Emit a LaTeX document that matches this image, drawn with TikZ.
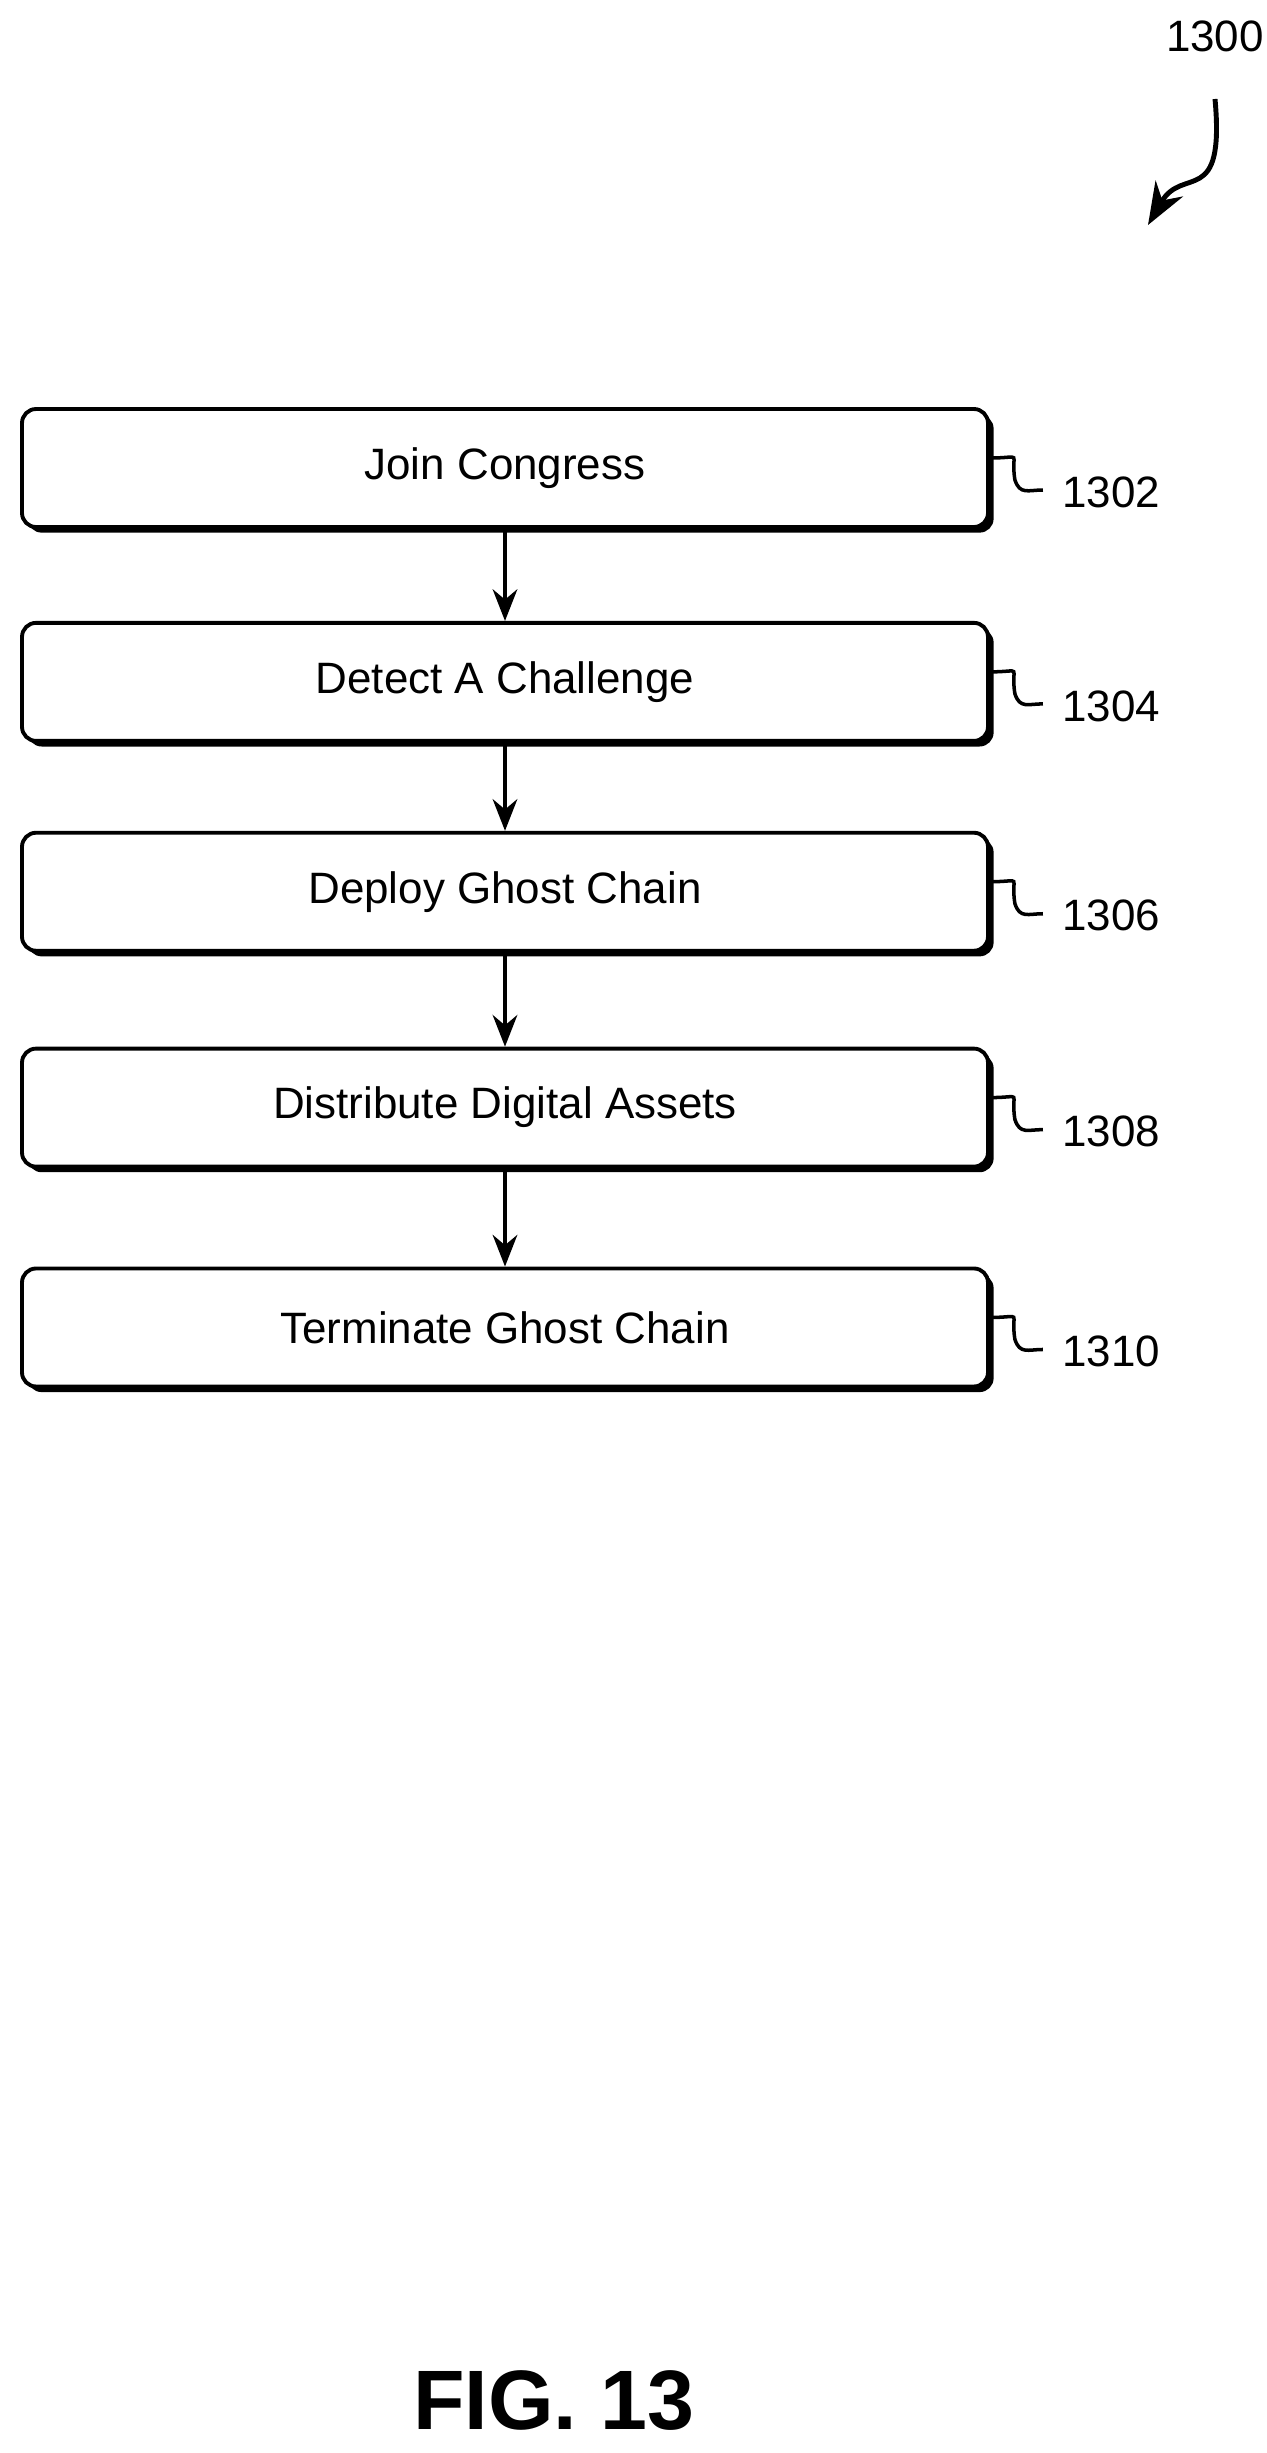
\documentclass[tikz,border=0pt]{standalone}
\usepackage{fontspec}
\setmainfont{Liberation Sans}
\usetikzlibrary{positioning,arrows.meta}

\tikzset{
  stage/.style = {draw, line width=1.1pt, rounded corners=4pt, fill=white,
    minimum width=9.66cm, minimum height=1.18cm, font=\fontsize{12.5}{15}\selectfont},
  shadowed/.style = {preaction={fill=black, transform canvas={xshift=1.6pt, yshift=-1.6pt}}},
  flow/.style = {-{Stealth[length=9pt,width=7pt]}, line width=1.1pt},
  tag/.style = {font=\fontsize{12.5}{15}\selectfont, anchor=west},
  squig/.style = {line width=1pt}
}

\begin{document}
\begin{tikzpicture}
  \useasboundingbox (0,0) rectangle (12.67,-24.53);

  % stages
  \node[stage, shadowed] (join) at (5.05,-4.68) {Join Congress};
  \node[stage, shadowed, below=0.92cm of join] (detect) {Detect A Challenge};
  \node[stage, shadowed, below=0.88cm of detect] (deploy) {Deploy Ghost Chain};
  \node[stage, shadowed, below=0.94cm of deploy] (distribute) {Distribute Digital Assets};
  \node[stage, shadowed, below=0.98cm of distribute] (terminate) {Terminate Ghost Chain};

  \draw[flow] (join) -- (detect);
  \draw[flow] (detect) -- (deploy);
  \draw[flow] (deploy) -- (distribute);
  \draw[flow] (distribute) -- (terminate);

  % reference numerals
  \foreach \blk/\num in {join/1302, detect/1304, deploy/1306, distribute/1308, terminate/1310}{
    \coordinate (s\num) at ([yshift=0.1cm]\blk.east);
    \node[tag] (t\num) at ([xshift=0.6cm,yshift=-0.24cm]\blk.east) {\num};
    \draw[squig] (s\num) .. controls +(0.35,0) and +(-0.05,0.3) .. ++(0.25,-0.22)
      .. controls +(0.05,-0.15) and +(-0.15,0) .. ++(0.28,-0.1);
  }

  \node[font=\fontsize{12.5}{15}\selectfont] (fignum) at (12.15,-0.36) {1300};
  \coordinate (figtip) at (11.48,-2.25);
  \draw[-{Stealth[length=12pt,width=9pt]}, line width=1.4pt]
    ([yshift=-0.35cm]fignum.south) .. controls +(0.1,-1.1) and +(0.35,0.6) .. (figtip);

  \node[font=\bfseries\fontsize{24}{29}\selectfont] (caption) at (5.54,-24.0) {FIG. 13};
\end{tikzpicture}
\end{document}
